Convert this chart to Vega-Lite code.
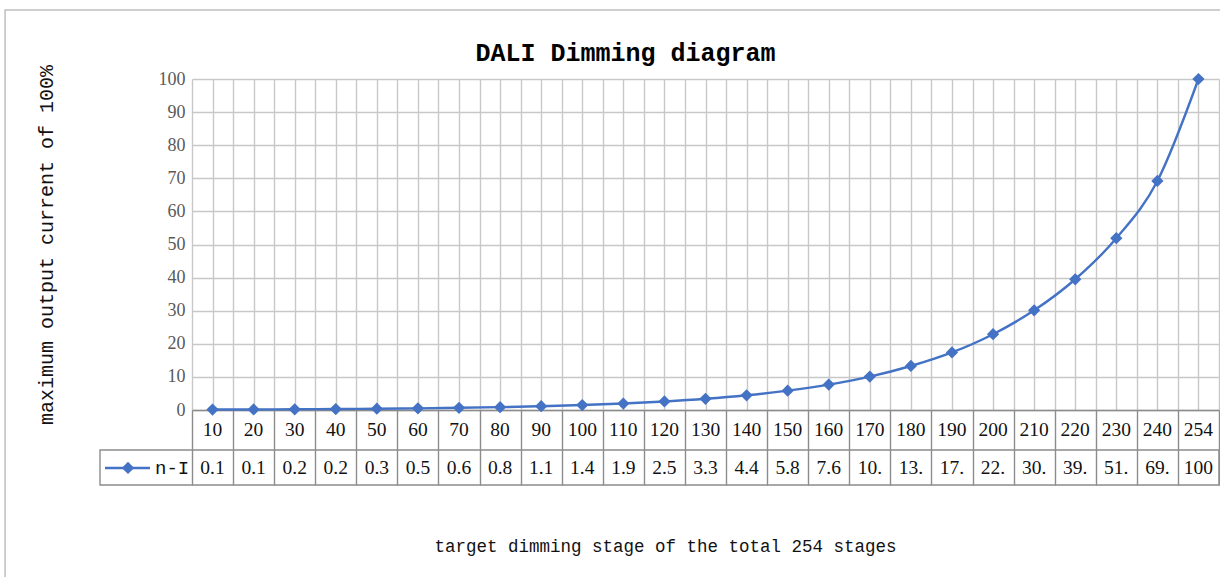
{
  "$schema": "https://vega.github.io/schema/vega-lite/v6.json",
  "autosize": {"type": "none"},
  "padding": {"left": 192, "top": 79, "right": 1, "bottom": 167},
  "width": 1027,
  "height": 331,
  "background": "white",
  "config": {"view": {"stroke": null}, "axis": {"labelOverlap": false}},
  "title": {"text": "DALI Dimming diagram", "font": "Liberation Mono", "fontSize": 25, "fontWeight": "bold", "color": "#000000", "anchor": "middle", "dx": -80, "baseline": "alphabetic", "offset": -76.75},
  "data": {"values": [
    {"n": 1, "stage": "10", "value": 0.13, "label": "0.1"},
    {"n": 2, "stage": "20", "value": 0.17, "label": "0.1"},
    {"n": 3, "stage": "30", "value": 0.22, "label": "0.2"},
    {"n": 4, "stage": "40", "value": 0.29, "label": "0.2"},
    {"n": 5, "stage": "50", "value": 0.38, "label": "0.3"},
    {"n": 6, "stage": "60", "value": 0.5, "label": "0.5"},
    {"n": 7, "stage": "70", "value": 0.66, "label": "0.6"},
    {"n": 8, "stage": "80", "value": 0.86, "label": "0.8"},
    {"n": 9, "stage": "90", "value": 1.14, "label": "1.1"},
    {"n": 10, "stage": "100", "value": 1.49, "label": "1.4"},
    {"n": 11, "stage": "110", "value": 1.96, "label": "1.9"},
    {"n": 12, "stage": "120", "value": 2.58, "label": "2.5"},
    {"n": 13, "stage": "130", "value": 3.38, "label": "3.3"},
    {"n": 14, "stage": "140", "value": 4.45, "label": "4.4"},
    {"n": 15, "stage": "150", "value": 5.85, "label": "5.8"},
    {"n": 16, "stage": "160", "value": 7.68, "label": "7.6"},
    {"n": 17, "stage": "170", "value": 10.1, "label": "10."},
    {"n": 18, "stage": "180", "value": 13.3, "label": "13."},
    {"n": 19, "stage": "190", "value": 17.4, "label": "17."},
    {"n": 20, "stage": "200", "value": 22.9, "label": "22."},
    {"n": 21, "stage": "210", "value": 30.1, "label": "30."},
    {"n": 22, "stage": "220", "value": 39.5, "label": "39."},
    {"n": 23, "stage": "230", "value": 51.9, "label": "51."},
    {"n": 24, "stage": "240", "value": 69.2, "label": "69."},
    {"n": 25, "stage": "254", "value": 100, "label": "100"}
  ]},
  "layer": [
    {
      "mark": {"type": "line", "color": "#4472C4", "strokeWidth": 2.4, "interpolate": "monotone"},
      "encoding": {
        "x": {"field": "n", "type": "quantitative", "scale": {"domain": [0.5, 25.5], "nice": false, "zero": false},
          "axis": {"orient": "bottom", "values": [0.5,1.5,2.5,3.5,4.5,5.5,6.5,7.5,8.5,9.5,10.5,11.5,12.5,13.5,14.5,15.5,16.5,17.5,18.5,19.5,20.5,21.5,22.5,23.5,24.5,25.5], "grid": true, "gridColor": "#c8c8c8", "gridWidth": 1.4, "ticks": true, "tickSize": 75, "tickColor": "#8c8c8c", "tickWidth": 1.4, "domain": true, "domainColor": "#8c8c8c", "domainWidth": 1.4, "labels": false,
            "title": "target dimming stage of the total 254 stages", "titleFont": "Liberation Mono", "titleFontSize": 17.5, "titleFontWeight": "normal", "titleColor": "#111111", "titlePadding": 52, "titleX": 473, "titleAlign": "center"}},
        "y": {"field": "value", "type": "quantitative", "scale": {"domain": [0, 100], "nice": false, "zero": false},
          "axis": {"values": [0,10,20,30,40,50,60,70,80,90,100], "grid": true, "gridColor": "#c8c8c8", "gridWidth": 1.4, "ticks": false, "domain": false, "labelOverlap": false, "labelFlush": false, "labelBound": false, "labelFont": "Liberation Serif", "labelFontSize": 18, "labelColor": "#595959", "labelPadding": 7,
            "title": "maximum output current of 100%", "titleFont": "Liberation Mono", "titleFontSize": 20, "titleFontWeight": "normal", "titleColor": "#111111", "titlePadding": 102}}
      }
    },
    {
      "mark": {"type": "point", "shape": "diamond", "filled": true, "size": 150, "color": "#4472C4", "opacity": 1},
      "encoding": {
        "x": {"field": "n", "type": "quantitative", "scale": {"domain": [0.5, 25.5], "nice": false, "zero": false},
          "axis": {"orient": "top", "values": [1,2,3,4,5,6,7,8,9,10,11,12,13,14,15,16,17,18,19,20,21,22,23,24,25], "grid": true, "gridColor": "#c8c8c8", "gridWidth": 1.4, "ticks": false, "domain": false, "labels": false, "title": null}},
        "y": {"field": "value", "type": "quantitative", "scale": {"domain": [0, 100], "nice": false, "zero": false}, "axis": null}
      }
    },
    {
      "mark": {"type": "text", "font": "Liberation Serif", "fontSize": 19.5, "color": "#111111", "baseline": "middle", "align": "center"},
      "encoding": {
        "x": {"field": "n", "type": "quantitative", "scale": {"domain": [0.5, 25.5], "nice": false, "zero": false}, "axis": null},
        "y": {"datum": -6.19, "type": "quantitative", "scale": {"domain": [0, 100], "nice": false, "zero": false}, "axis": null},
        "text": {"field": "stage", "type": "nominal"}
      }
    },
    {
      "mark": {"type": "text", "font": "Liberation Serif", "fontSize": 19.5, "color": "#111111", "baseline": "middle", "align": "center"},
      "encoding": {
        "x": {"field": "n", "type": "quantitative", "scale": {"domain": [0.5, 25.5], "nice": false, "zero": false}, "axis": null},
        "y": {"datum": -17.52, "type": "quantitative", "scale": {"domain": [0, 100], "nice": false, "zero": false}, "axis": null},
        "text": {"field": "label", "type": "nominal"}
      }
    },
    {
      "data": {"values": [{"series": "n-I"}]},
      "layer": [
        {
          "mark": {"type": "rect", "fill": null, "stroke": "#8c8c8c", "strokeWidth": 1.4},
          "encoding": {
            "x": {"datum": -1.7395, "type": "quantitative", "scale": {"domain": [0.5, 25.5], "nice": false, "zero": false}, "axis": null},
            "x2": {"datum": 25.5},
            "y": {"datum": -12.08, "type": "quantitative", "scale": {"domain": [0, 100], "nice": false, "zero": false}, "axis": null},
            "y2": {"datum": -22.66}
          }
        },
        {
          "mark": {"type": "rule", "color": "#4472C4", "strokeWidth": 2.4},
          "encoding": {
            "x": {"datum": -1.618, "type": "quantitative", "scale": {"domain": [0.5, 25.5], "nice": false, "zero": false}, "axis": null},
            "x2": {"datum": -0.522},
            "y": {"datum": -17.52, "type": "quantitative", "scale": {"domain": [0, 100], "nice": false, "zero": false}, "axis": null}
          }
        },
        {
          "mark": {"type": "point", "shape": "diamond", "filled": true, "size": 150, "color": "#4472C4", "opacity": 1},
          "encoding": {
            "x": {"datum": -1.058, "type": "quantitative", "scale": {"domain": [0.5, 25.5], "nice": false, "zero": false}, "axis": null},
            "y": {"datum": -17.52, "type": "quantitative", "scale": {"domain": [0, 100], "nice": false, "zero": false}, "axis": null}
          }
        },
        {
          "mark": {"type": "text", "font": "Liberation Mono", "fontSize": 19, "color": "#111111", "baseline": "middle", "align": "left"},
          "encoding": {
            "x": {"datum": -0.4, "type": "quantitative", "scale": {"domain": [0.5, 25.5], "nice": false, "zero": false}, "axis": null},
            "y": {"datum": -17.52, "type": "quantitative", "scale": {"domain": [0, 100], "nice": false, "zero": false}, "axis": null},
            "text": {"field": "series", "type": "nominal"}
          }
        },
        {
          "mark": {"type": "rect", "fill": null, "stroke": "#bfbfbf", "strokeWidth": 1.5},
          "encoding": {
            "x": {"datum": -4.05, "type": "quantitative", "scale": {"domain": [0.5, 25.5], "nice": false, "zero": false}, "axis": null},
            "x2": {"datum": 40},
            "y": {"datum": 120.85, "type": "quantitative", "scale": {"domain": [0, 100], "nice": false, "zero": false}, "axis": null},
            "y2": {"datum": -100}
          }
        }
      ]
    }
  ],
  "resolve": {"axis": {"x": "independent", "y": "independent"}}
}
